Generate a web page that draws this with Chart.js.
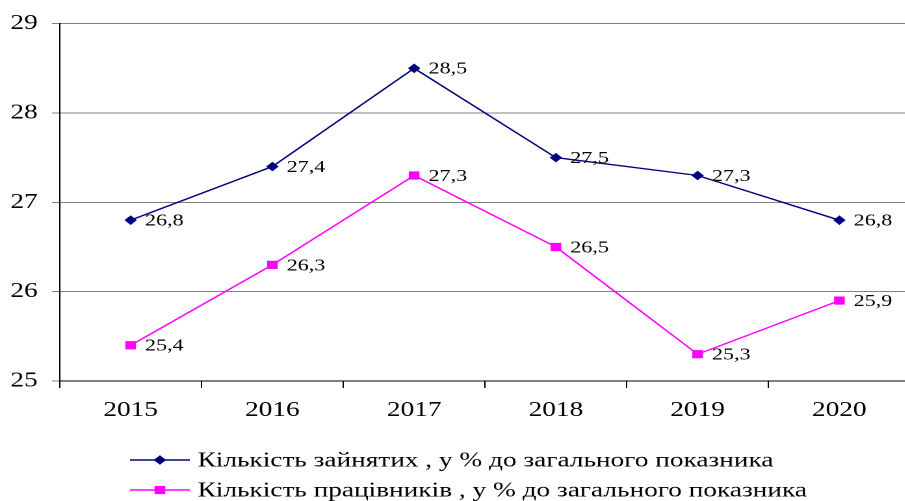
<!DOCTYPE html>
<html>
<head>
<meta charset="utf-8">
<script src="https://cdn.jsdelivr.net/npm/chart.js@4/dist/chart.umd.min.js"></script>
<style>
  html, body { margin: 0; padding: 0; background: #fff; width: 905px; height: 501px; overflow: hidden; }
  #wrap { width: 706px; height: 501px; transform: scaleX(1.3); transform-origin: 0 0; }
</style>
</head>
<body>
<div id="wrap"><canvas id="c"></canvas></div>
<script>
const categories = ['2015', '2016', '2017', '2018', '2019', '2020'];
const employedShare = [26.8, 27.4, 28.5, 27.5, 27.3, 26.8];
const workersShare = [25.4, 26.3, 27.3, 26.5, 25.3, 25.9];
const seriesNames = [
  'Кількість зайнятих , у % до загального показника',
  'Кількість працівників , у % до загального показника'
];
const yTicks = [25, 26, 27, 28, 29];

const FONT = "'Liberation Serif', 'Times New Roman', serif";

const dataLabels = {
  id: 'dataLabels',
  afterDatasetsDraw(chart) {
    const ctx = chart.ctx;
    ctx.save();
    ctx.font = '17px ' + FONT;
    ctx.fillStyle = '#000';
    ctx.textAlign = 'left';
    ctx.textBaseline = 'middle';
    chart.data.datasets.forEach((ds, i) => {
      const meta = chart.getDatasetMeta(i);
      meta.data.forEach((pt, j) => {
        const txt = String(ds.data[j]).replace('.', ',');
        ctx.fillText(txt, pt.x + 11, pt.y + 1);
      });
    });
    ctx.restore();
  }
};

const customLegend = {
  id: 'customLegend',
  afterDraw(chart) {
    const ctx = chart.ctx;
    ctx.save();
    const rows = [460, 490];
    chart.data.datasets.forEach((ds, i) => {
      const y = rows[i];
      ctx.strokeStyle = ds.borderColor;
      ctx.lineWidth = 1.6;
      ctx.beginPath();
      ctx.moveTo(100, y);
      ctx.lineTo(146, y);
      ctx.stroke();
      ctx.fillStyle = ds.pointBackgroundColor;
      ctx.beginPath();
      if (ds.pointStyle === 'rect') {
        const s = ds.pointRadius * Math.SQRT1_2;
        ctx.fillRect(123 - s, y - s, 2 * s, 2 * s);
      } else {
        const r = ds.pointRadius;
        ctx.moveTo(123, y - r); ctx.lineTo(123 + r, y); ctx.lineTo(123, y + r); ctx.lineTo(123 - r, y);
        ctx.closePath(); ctx.fill();
      }
      ctx.fillStyle = '#000';
      ctx.font = '21px ' + FONT;
      ctx.textAlign = 'left';
      ctx.textBaseline = 'middle';
      ctx.fillText(ds.label, 152, y + 1);
    });
    ctx.restore();
  }
};

new Chart(document.getElementById('c'), {
  type: 'line',
  data: {
    labels: categories,
    datasets: [
      {
        label: seriesNames[0],
        data: employedShare,
        borderColor: '#000080',
        backgroundColor: '#000080',
        pointBackgroundColor: '#000080',
        pointBorderColor: '#000080',
        pointStyle: 'rectRot',
        pointRadius: 4.8,
        pointBorderWidth: 0,
        borderWidth: 1.4,
        tension: 0
      },
      {
        label: seriesNames[1],
        data: workersShare,
        borderColor: '#FF00FF',
        backgroundColor: '#FF00FF',
        pointBackgroundColor: '#FF00FF',
        pointBorderColor: '#FF00FF',
        pointStyle: 'rect',
        pointRadius: 5.8,
        pointBorderWidth: 0,
        borderWidth: 1.4,
        tension: 0
      }
    ]
  },
  options: {
    responsive: true,
    maintainAspectRatio: false,
    animation: false,
    devicePixelRatio: 2,
    layout: { padding: { top: 22, right: 0, bottom: 80, left: 0 } },
    plugins: {
      legend: { display: false },
      tooltip: { enabled: false }
    },
    scales: {
      x: {
        offset: true,
        grid: {
          offset: true,
          drawOnChartArea: false,
          drawTicks: true,
          tickLength: 7,
          color: '#000'
        },
        border: { color: '#000', width: 1 },
        ticks: {
          color: '#000',
          font: { family: FONT, size: 21 },
          padding: 10,
          maxRotation: 0
        },
        afterFit(scale) { scale.height = 40; }
      },
      y: {
        min: 25,
        max: 29,
        afterBuildTicks(scale) { scale.ticks = yTicks.map(v => ({ value: v })); },
        grid: {
          color: '#808080',
          tickLength: 6,
          drawTicks: true
        },
        border: { color: '#000', width: 1 },
        ticks: {
          color: '#000',
          font: { family: FONT, size: 21 },
          padding: 11
        },
        afterFit(scale) { scale.width = 46; }
      }
    }
  },
  plugins: [dataLabels, customLegend]
});
</script>
</body>
</html>
